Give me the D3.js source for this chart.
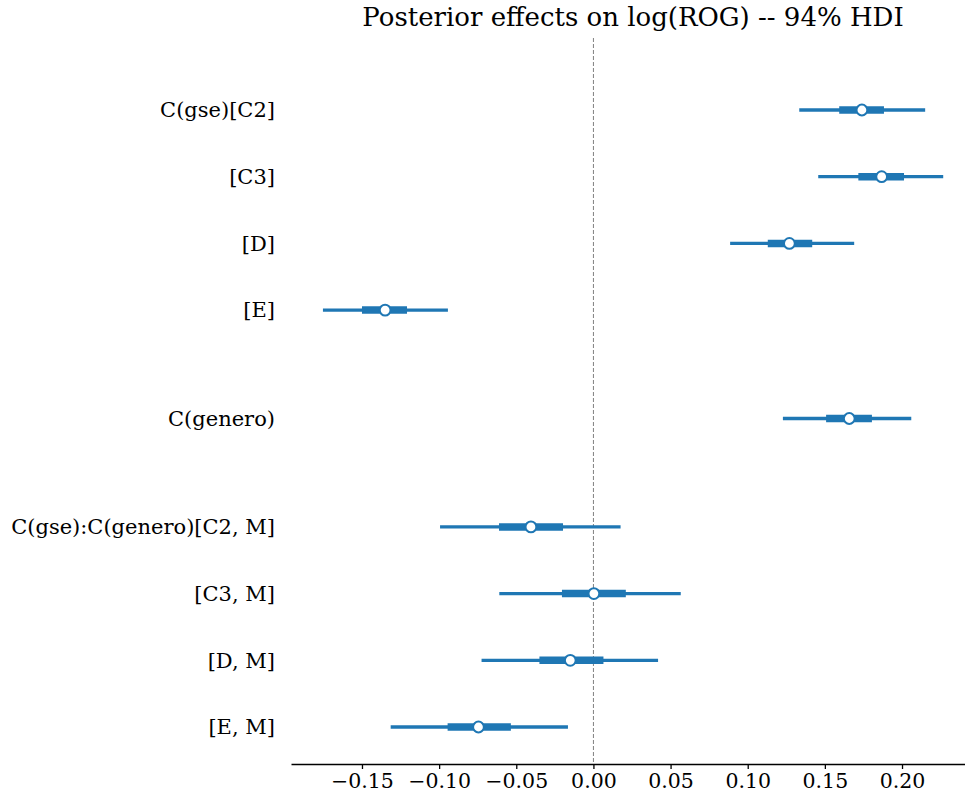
<!DOCTYPE html>
<meta charset="utf-8">
<head>
<script src="https://d3js.org/d3.v7.min.js"></script>
<style>
body { margin: 0; background: #fff; }
text { font-family: "DejaVu Serif", serif; fill: #000; }
</style>
</head>
<body>
<div id="my_dataviz"></div>
<script>
// rows of the forest plot, top to bottom
var labels = ["C(gse)[C2]", "[C3]", "[D]", "[E]", "C(genero)",
              "C(gse):C(genero)[C2, M]", "[C3, M]", "[D, M]", "[E, M]"];
var group = [0, 0, 0, 0, 1, 2, 2, 2, 2];
var median = [0.1740, 0.1868, 0.1270, -0.1350, 0.1658, -0.0405, 0.0003, -0.0150, -0.0745];
var hdiLow = [0.1334, 0.1457, 0.0886, -0.1753, 0.1228, -0.0994, -0.0610, -0.0725, -0.1314];
var hdiHigh = [0.2150, 0.2267, 0.1690, -0.0943, 0.2060, 0.0176, 0.0566, 0.0419, -0.0165];
var iqrLow = [0.1593, 0.1717, 0.1130, -0.1500, 0.1508, -0.0612, -0.0204, -0.0350, -0.0945];
var iqrHigh = [0.1883, 0.2013, 0.1418, -0.1208, 0.1805, -0.0197, 0.0210, 0.0065, -0.0535];
var xTicks = [-0.15, -0.10, -0.05, 0.00, 0.05, 0.10, 0.15, 0.20];

var blue = "#1f77b4";
var width = 965, height = 801;

var svg = d3.select("#my_dataviz")
  .append("svg")
    .attr("width", width)
    .attr("height", height);

// x scale: axes run from 291px to the right edge (cropped)
var x = d3.scaleLinear()
  .domain([-0.196, 0.2473])
  .range([291, 975]);

// row slot: one per row, plus extra gap between groups
var slot = labels.map(function(d, i) { return i + group[i] * 0.625; });
var y = d3.scaleLinear()
  .domain([0, d3.max(slot)])
  .range([110, 727]);

var rows = labels.map(function(d, i) {
  return {label: d, pos: slot[i], m: median[i], lo: hdiLow[i], hi: hdiHigh[i], qlo: iqrLow[i], qhi: iqrHigh[i]};
});

// dashed reference line at 0
svg.append("line")
  .attr("x1", x(0)).attr("x2", x(0))
  .attr("y1", 38).attr("y2", 764)
  .attr("stroke", "#808080")
  .attr("stroke-width", 1)
  .attr("stroke-dasharray", "4,2");

// bottom axis
var xAxis = svg.append("g")
  .attr("transform", "translate(0,764)")
  .call(d3.axisBottom(x).tickValues(xTicks).tickSize(5).tickPadding(4).tickSizeOuter(0)
        .tickFormat(d3.format(".2f")));
xAxis.select(".domain").attr("stroke-width", 1.3);
xAxis.selectAll(".tick line").attr("stroke-width", 1.3);
xAxis.selectAll(".tick text").style("font-size", "20.5px");

// row labels
svg.selectAll(".rowlabel")
  .data(rows)
  .enter().append("text")
    .attr("class", "rowlabel")
    .attr("x", 275)
    .attr("y", function(d) { return y(d.pos); })
    .attr("dy", "0.35em")
    .attr("text-anchor", "end")
    .style("font-size", "21px")
    .text(function(d) { return d.label; });

// 94% HDI lines
svg.selectAll(".hdi")
  .data(rows)
  .enter().append("line")
    .attr("x1", function(d) { return x(d.lo); })
    .attr("x2", function(d) { return x(d.hi); })
    .attr("y1", function(d) { return y(d.pos); })
    .attr("y2", function(d) { return y(d.pos); })
    .attr("stroke", blue)
    .attr("stroke-width", 3.3);

// interquartile thick lines
svg.selectAll(".iqr")
  .data(rows)
  .enter().append("line")
    .attr("x1", function(d) { return x(d.qlo); })
    .attr("x2", function(d) { return x(d.qhi); })
    .attr("y1", function(d) { return y(d.pos); })
    .attr("y2", function(d) { return y(d.pos); })
    .attr("stroke", blue)
    .attr("stroke-width", 7.5);

// median points
svg.selectAll(".med")
  .data(rows)
  .enter().append("circle")
    .attr("cx", function(d) { return x(d.m); })
    .attr("cy", function(d) { return y(d.pos); })
    .attr("r", 5.4)
    .attr("fill", "#fff")
    .attr("stroke", blue)
    .attr("stroke-width", 2);

// title
svg.append("text")
  .attr("x", 633)
  .attr("y", 26)
  .attr("text-anchor", "middle")
  .style("font-size", "26px")
  .text("Posterior effects on log(ROG) -- 94% HDI");
</script>
</body>
</html>
